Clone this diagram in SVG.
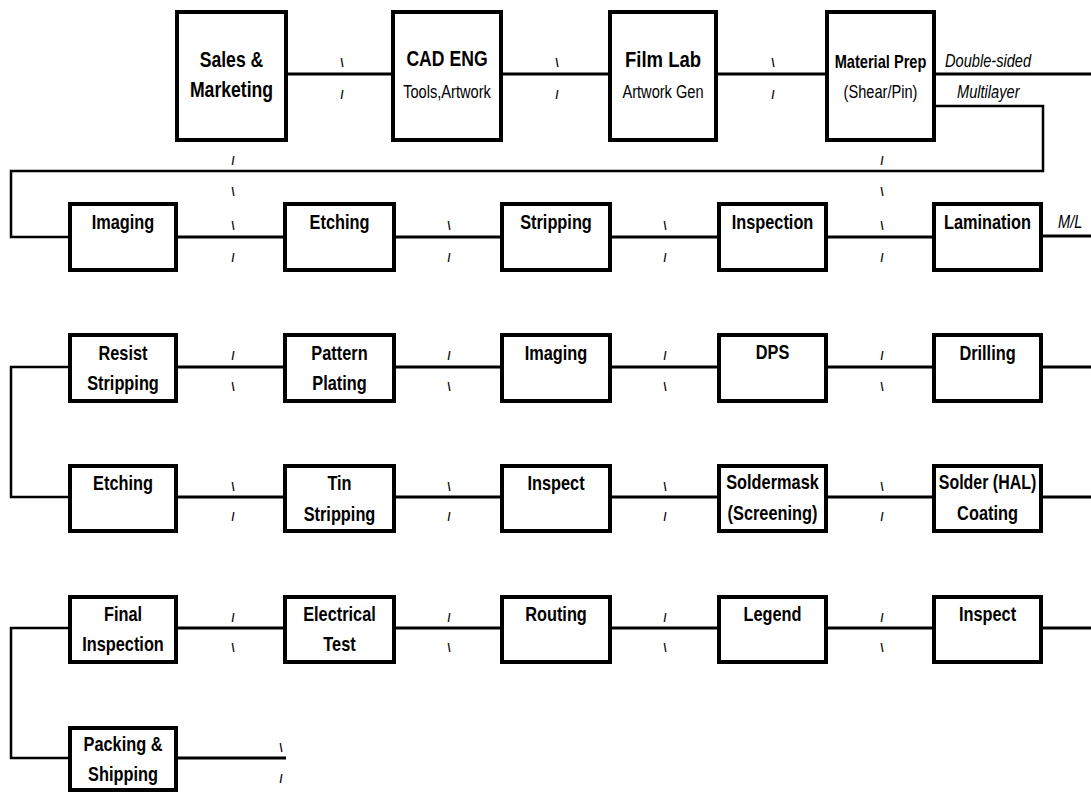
<svg xmlns="http://www.w3.org/2000/svg" width="1091" height="793" viewBox="0 0 1091 793">
<style>
.box{fill:#fff;stroke:#000;stroke-width:4}
.ln{fill:none;stroke:#000;stroke-width:3}
.lp{fill:none;stroke:#000;stroke-width:2.5}
text{font-family:"Liberation Sans",Arial,sans-serif;fill:#000;text-anchor:middle}
.b1{font-weight:bold;font-size:20.5px}
.b{font-weight:bold;font-size:19px}
.r{font-size:17px}
.it{font-style:italic;font-size:17px;text-anchor:start}
.s{font-size:13px;font-weight:bold}
</style>
<rect width="1091" height="793" fill="#fff"/>
<g id="connectors">
<path class="ln" d="M286,74H393M501,74H610M716,74H827M934,74H1091"/>
<path class="lp" d="M934,106H1043V171H11V237H70"/>
<path class="ln" d="M176,237H285M394,237H502M610,237H719M826,237H934M1041,236H1091"/>
<path class="ln" d="M176,367H285M394,367H502M610,367H719M826,367H934M1041,367H1091"/>
<path class="lp" d="M70,367H11V497H70"/>
<path class="ln" d="M176,497H285M394,497H502M610,497H719M826,497H934M1041,497H1091"/>
<path class="ln" d="M176,628H285M394,628H502M610,628H719M826,628H934M1041,628H1091"/>
<path class="lp" d="M70,628H11V758H70"/>
<path class="ln" d="M176,758H286"/>
<g class="s">
<text transform="translate(342,67) scale(.84,1)">\</text><text transform="translate(342,99) scale(.84,1)">/</text>
<text transform="translate(557,67) scale(.84,1)">\</text><text transform="translate(557,99) scale(.84,1)">/</text>
<text transform="translate(773,67) scale(.84,1)">\</text><text transform="translate(773,99) scale(.84,1)">/</text>
<text transform="translate(233,165) scale(.84,1)">/</text><text transform="translate(233,196) scale(.84,1)">\</text>
<text transform="translate(882,165) scale(.84,1)">/</text><text transform="translate(882,196) scale(.84,1)">\</text>
<text transform="translate(233,230) scale(.84,1)">\</text><text transform="translate(233,262) scale(.84,1)">/</text>
<text transform="translate(449,230) scale(.84,1)">\</text><text transform="translate(449,262) scale(.84,1)">/</text>
<text transform="translate(665,230) scale(.84,1)">\</text><text transform="translate(665,262) scale(.84,1)">/</text>
<text transform="translate(882,230) scale(.84,1)">\</text><text transform="translate(882,262) scale(.84,1)">/</text>
<text transform="translate(233,360) scale(.84,1)">/</text><text transform="translate(233,391) scale(.84,1)">\</text>
<text transform="translate(449,360) scale(.84,1)">/</text><text transform="translate(449,391) scale(.84,1)">\</text>
<text transform="translate(665,360) scale(.84,1)">/</text><text transform="translate(665,391) scale(.84,1)">\</text>
<text transform="translate(882,360) scale(.84,1)">/</text><text transform="translate(882,391) scale(.84,1)">\</text>
<text transform="translate(233,491) scale(.84,1)">\</text><text transform="translate(233,521) scale(.84,1)">/</text>
<text transform="translate(449,491) scale(.84,1)">\</text><text transform="translate(449,521) scale(.84,1)">/</text>
<text transform="translate(665,491) scale(.84,1)">\</text><text transform="translate(665,521) scale(.84,1)">/</text>
<text transform="translate(882,491) scale(.84,1)">\</text><text transform="translate(882,521) scale(.84,1)">/</text>
<text transform="translate(233,622) scale(.84,1)">/</text><text transform="translate(233,652) scale(.84,1)">\</text>
<text transform="translate(449,622) scale(.84,1)">/</text><text transform="translate(449,652) scale(.84,1)">\</text>
<text transform="translate(665,622) scale(.84,1)">/</text><text transform="translate(665,652) scale(.84,1)">\</text>
<text transform="translate(882,622) scale(.84,1)">/</text><text transform="translate(882,652) scale(.84,1)">\</text>
<text transform="translate(281,752) scale(.84,1)">\</text><text transform="translate(281,783) scale(.84,1)">/</text>
</g>
<text class="it" transform="translate(945,67) scale(.86,1.06)">Double-sided</text>
<text class="it" transform="translate(957,98) scale(.86,1.06)">Multilayer</text>
<text class="it" transform="translate(1058,228) scale(.86,1.06)">M/L</text>
</g>
<g id="sales"><rect class="box" x="177" y="12" width="109" height="128"/><text class="b1" transform="translate(231.5,67) scale(.86,1.06)">Sales &amp;</text><text class="b1" transform="translate(231.5,97) scale(.86,1.06)">Marketing</text></g>
<g id="cad"><rect class="box" x="393" y="12" width="108" height="128"/><text class="b1" transform="translate(447,66) scale(.86,1.06)">CAD ENG</text><text class="r" transform="translate(447,98) scale(.86,1.06)">Tools,Artwork</text></g>
<g id="filmlab"><rect class="box" x="610" y="12" width="106" height="128"/><text class="b1" style="font-size:21.5px" transform="translate(663,67) scale(.86,1.06)">Film Lab</text><text class="r" transform="translate(663,98) scale(.86,1.06)">Artwork Gen</text></g>
<g id="matprep"><rect class="box" x="827" y="12" width="107" height="128"/><text class="b" style="font-size:17px" transform="translate(880.5,68) scale(.86,1.06)">Material Prep</text><text class="r" transform="translate(880.5,98) scale(.86,1.06)">(Shear/Pin)</text></g>

<g id="imaging1"><rect class="box" x="70" y="204" width="106" height="66"/><text class="b" transform="translate(123,229) scale(.86,1.06)">Imaging</text></g>
<g id="etching1"><rect class="box" x="285" y="204" width="109" height="66"/><text class="b" transform="translate(339.5,229) scale(.86,1.06)">Etching</text></g>
<g id="stripping"><rect class="box" x="502" y="204" width="108" height="66"/><text class="b" transform="translate(556,229) scale(.86,1.06)">Stripping</text></g>
<g id="inspection"><rect class="box" x="719" y="204" width="107" height="66"/><text class="b" transform="translate(772.5,229) scale(.86,1.06)">Inspection</text></g>
<g id="lamination"><rect class="box" x="934" y="204" width="107" height="66"/><text class="b" transform="translate(987.5,229) scale(.86,1.06)">Lamination</text></g>

<g id="resist"><rect class="box" x="70" y="335" width="106" height="66"/><text class="b" transform="translate(123,360) scale(.86,1.06)">Resist</text><text class="b" transform="translate(123,390) scale(.86,1.06)">Stripping</text></g>
<g id="pattern"><rect class="box" x="285" y="335" width="109" height="66"/><text class="b" transform="translate(339.5,360) scale(.86,1.06)">Pattern</text><text class="b" transform="translate(339.5,390) scale(.86,1.06)">Plating</text></g>
<g id="imaging2"><rect class="box" x="502" y="335" width="108" height="66"/><text class="b" transform="translate(556,360) scale(.86,1.06)">Imaging</text></g>
<g id="dps"><rect class="box" x="719" y="335" width="107" height="66"/><text class="b" transform="translate(772.5,359) scale(.86,1.06)">DPS</text></g>
<g id="drilling"><rect class="box" x="934" y="335" width="107" height="66"/><text class="b" transform="translate(987.5,360) scale(.86,1.06)">Drilling</text></g>

<g id="etching2"><rect class="box" x="70" y="466" width="106" height="65"/><text class="b" transform="translate(123,490) scale(.86,1.06)">Etching</text></g>
<g id="tin"><rect class="box" x="285" y="466" width="109" height="65"/><text class="b" transform="translate(339.5,490) scale(.86,1.06)">Tin</text><text class="b" transform="translate(339.5,521) scale(.86,1.06)">Stripping</text></g>
<g id="inspect1"><rect class="box" x="502" y="466" width="108" height="65"/><text class="b" transform="translate(556,490) scale(.86,1.06)">Inspect</text></g>
<g id="soldermask"><rect class="box" x="719" y="466" width="107" height="65"/><text class="b" transform="translate(772.5,489) scale(.86,1.06)">Soldermask</text><text class="b" transform="translate(772.5,520) scale(.86,1.06)">(Screening)</text></g>
<g id="solder"><rect class="box" x="934" y="466" width="107" height="65"/><text class="b" transform="translate(987.5,489) scale(.84,1.06)">Solder (HAL)</text><text class="b" transform="translate(987.5,520) scale(.86,1.06)">Coating</text></g>

<g id="final"><rect class="box" x="70" y="597" width="106" height="65"/><text class="b" transform="translate(123,621) scale(.86,1.06)">Final</text><text class="b" transform="translate(123,651) scale(.86,1.06)">Inspection</text></g>
<g id="electrical"><rect class="box" x="285" y="597" width="109" height="65"/><text class="b" transform="translate(339.5,621) scale(.86,1.06)">Electrical</text><text class="b" transform="translate(339.5,651) scale(.86,1.06)">Test</text></g>
<g id="routing"><rect class="box" x="502" y="597" width="108" height="65"/><text class="b" transform="translate(556,621) scale(.86,1.06)">Routing</text></g>
<g id="legend"><rect class="box" x="719" y="597" width="107" height="65"/><text class="b" transform="translate(772.5,621) scale(.86,1.06)">Legend</text></g>
<g id="inspect2"><rect class="box" x="934" y="597" width="107" height="65"/><text class="b" transform="translate(987.5,621) scale(.86,1.06)">Inspect</text></g>

<g id="packing"><rect class="box" x="70" y="728" width="106" height="62"/><text class="b" transform="translate(123,751) scale(.86,1.06)">Packing &amp;</text><text class="b" transform="translate(123,781) scale(.86,1.06)">Shipping</text></g>
</svg>
